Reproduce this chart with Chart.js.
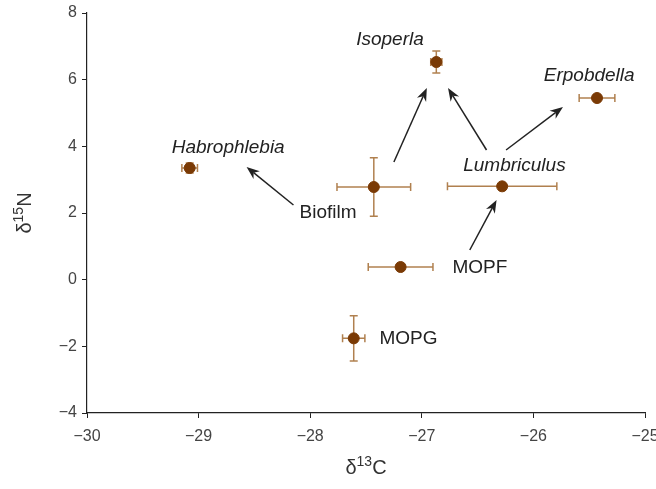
<!DOCTYPE html>
<html><head><meta charset="utf-8">
<script src="https://cdn.jsdelivr.net/npm/chart.js@4/dist/chart.umd.min.js"></script>
<style>html,body{margin:0;padding:0;background:#fff}#wrap{width:656px;height:489px}</style>
</head><body><div id="wrap"><canvas id="c" width="656" height="489"></canvas></div>
<script>
// Data (δ13C, δ15N, with errors)
const groups = ["Habrophlebia","Isoperla","Erpobdella","Biofilm","Lumbriculus","MOPF","MOPG"];
const d13C   = [-29.08, -26.87, -25.43, -27.43, -26.28, -27.19, -27.61];
const d15N   = [3.35, 6.53, 5.45, 2.78, 2.80, 0.38, -1.76];
const errC   = [0.07, 0.05, 0.16, 0.33, 0.49, 0.29, 0.10];
const errN   = [0.15, 0.33, 0.06, 0.88, 0.06, 0.06, 0.68];
const xTicks = [-30, -29, -28, -27, -26, -25];
const yTicks = [-4, -2, 0, 2, 4, 6, 8];

// Annotation labels (data units)
const labelText   = ["Habrophlebia","Isoperla","Erpobdella","Biofilm","Lumbriculus","MOPF","MOPG"];
const labelItalic = [true, true, true, false, true, false, false];
const labelX      = [-28.735, -27.285, -25.50, -27.84, -26.17, -26.48, -27.12];
const labelY      = [3.95, 7.19, 6.11, 2.00, 3.41, 0.36, -1.76];
// Arrows (data units): from -> to
const arrowFromX = [-28.15, -27.25, -26.42, -26.245, -26.57];
const arrowFromY = [2.24, 3.53, 3.89, 3.89, 0.89];
const arrowToX   = [-28.57, -26.955, -26.765, -25.735, -26.33];
const arrowToY   = [3.38, 5.75, 5.75, 5.18, 2.39];
// Axis titles: symbol, superscript, element
const xTitle = ["δ", "13", "C"];
const yTitle = ["δ", "15", "N"];

const FONT = "'Liberation Sans', Arial, sans-serif";
const fmt = v => (v < 0 ? "\u2212" + Math.abs(v) : String(v));

function drawSupTitle(ctx, parts, cx, cy) {
  const big = '20px ' + FONT, small = '14px ' + FONT;
  ctx.font = big; const w0 = ctx.measureText(parts[0]).width;
  ctx.font = small; const w1 = ctx.measureText(parts[1]).width;
  ctx.font = big; const w2 = ctx.measureText(parts[2]).width;
  let x0 = cx - (w0 + w1 + w2) / 2;
  ctx.textAlign = 'left'; ctx.textBaseline = 'alphabetic';
  ctx.font = big; ctx.fillText(parts[0], x0, cy + 7);
  ctx.font = small; ctx.fillText(parts[1], x0 + w0, cy - 1);
  ctx.font = big; ctx.fillText(parts[2], x0 + w0 + w1, cy + 7);
}

const errPlugin = {
  id: 'errbars',
  beforeDatasetsDraw(chart) {
    const {ctx, scales: {x, y}} = chart;
    ctx.save();
    ctx.strokeStyle = 'rgba(150,85,20,0.75)';
    ctx.lineWidth = 1.5;
    const cap = 4;
    for (let i = 0; i < d13C.length; i++) {
      const cx = x.getPixelForValue(d13C[i]), cy = y.getPixelForValue(d15N[i]);
      const x0 = x.getPixelForValue(d13C[i] - errC[i]), x1 = x.getPixelForValue(d13C[i] + errC[i]);
      const y0 = y.getPixelForValue(d15N[i] - errN[i]), y1 = y.getPixelForValue(d15N[i] + errN[i]);
      ctx.beginPath();
      ctx.moveTo(x0, cy); ctx.lineTo(x1, cy);
      ctx.moveTo(x0, cy - cap); ctx.lineTo(x0, cy + cap);
      ctx.moveTo(x1, cy - cap); ctx.lineTo(x1, cy + cap);
      ctx.moveTo(cx, y0); ctx.lineTo(cx, y1);
      ctx.moveTo(cx - cap, y0); ctx.lineTo(cx + cap, y0);
      ctx.moveTo(cx - cap, y1); ctx.lineTo(cx + cap, y1);
      ctx.stroke();
    }
    ctx.restore();
  },
  afterDatasetsDraw(chart) {
    const {ctx, scales: {x, y}, chartArea} = chart;
    ctx.save();
    ctx.fillStyle = '#222';
    ctx.textAlign = 'center';
    ctx.textBaseline = 'middle';
    for (let i = 0; i < labelText.length; i++) {
      ctx.font = (labelItalic[i] ? 'italic ' : '') + '19px ' + FONT;
      ctx.fillText(labelText[i], x.getPixelForValue(labelX[i]), y.getPixelForValue(labelY[i]));
    }
    ctx.strokeStyle = '#222';
    ctx.fillStyle = '#222';
    ctx.lineWidth = 1.5;
    for (let i = 0; i < arrowFromX.length; i++) {
      const ax = x.getPixelForValue(arrowFromX[i]), ay = y.getPixelForValue(arrowFromY[i]);
      const bx = x.getPixelForValue(arrowToX[i]), by = y.getPixelForValue(arrowToY[i]);
      const ang = Math.atan2(by - ay, bx - ax);
      const hl = 13, hw = 5;
      const baseX = bx - hl * Math.cos(ang), baseY = by - hl * Math.sin(ang);
      ctx.beginPath(); ctx.moveTo(ax, ay); ctx.lineTo(baseX + 4*Math.cos(ang), baseY + 4*Math.sin(ang)); ctx.stroke();
      ctx.beginPath();
      ctx.moveTo(bx, by);
      ctx.lineTo(baseX - hw * Math.sin(ang), baseY + hw * Math.cos(ang));
      ctx.lineTo(bx - (hl-4) * Math.cos(ang), by - (hl-4) * Math.sin(ang));
      ctx.lineTo(baseX + hw * Math.sin(ang), baseY - hw * Math.cos(ang));
      ctx.closePath();
      ctx.fill();
    }
    // axis titles
    ctx.fillStyle = '#333';
    drawSupTitle(ctx, xTitle, (chartArea.left + chartArea.right) / 2, 467);
    ctx.save();
    ctx.translate(24, (chartArea.top + chartArea.bottom) / 2);
    ctx.rotate(-Math.PI / 2);
    drawSupTitle(ctx, yTitle, 0, 0);
    ctx.restore();
    ctx.restore();
  }
};

new Chart(document.getElementById('c'), {
  type: 'scatter',
  data: {
    datasets: [{
      label: 'groups',
      data: d13C.map((v, i) => ({x: v, y: d15N[i]})),
      backgroundColor: '#7a3a05',
      borderColor: '#7a3a05',
      pointRadius: 5.5,
      pointHoverRadius: 5.5
    }]
  },
  options: {
    responsive: false,
    animation: false,
    events: [],
    layout: {padding: {top: 13, right: 11, left: 0, bottom: 0}},
    plugins: {legend: {display: false}, tooltip: {enabled: false}},
    scales: {
      x: {
        type: 'linear', min: -30, max: -25,
        afterBuildTicks: s => { s.ticks = xTicks.map(v => ({value: v})); },
        afterFit: s => { s.height = 76; s.paddingLeft = 0; s.paddingRight = 0; },
        grid: {drawOnChartArea: false, tickLength: 5, color: '#222', lineWidth: 1},
        border: {display: true, color: '#222', width: 1.2},
        ticks: {color: '#444', font: {size: 16, family: FONT}, padding: 9, maxRotation: 0, callback: v => fmt(v)},
        title: {display: false}
      },
      y: {
        type: 'linear', min: -4, max: 8,
        afterBuildTicks: s => { s.ticks = yTicks.map(v => ({value: v})); },
        afterFit: s => { s.width = 87; s.paddingTop = 0; s.paddingBottom = 0; },
        grid: {drawOnChartArea: false, tickLength: 5, color: '#222', lineWidth: 1},
        border: {display: true, color: '#222', width: 1.2},
        ticks: {color: '#444', font: {size: 16, family: FONT}, padding: 5, callback: v => fmt(v)},
        title: {display: false}
      }
    }
  },
  plugins: [errPlugin]
});
</script>
</body></html>
